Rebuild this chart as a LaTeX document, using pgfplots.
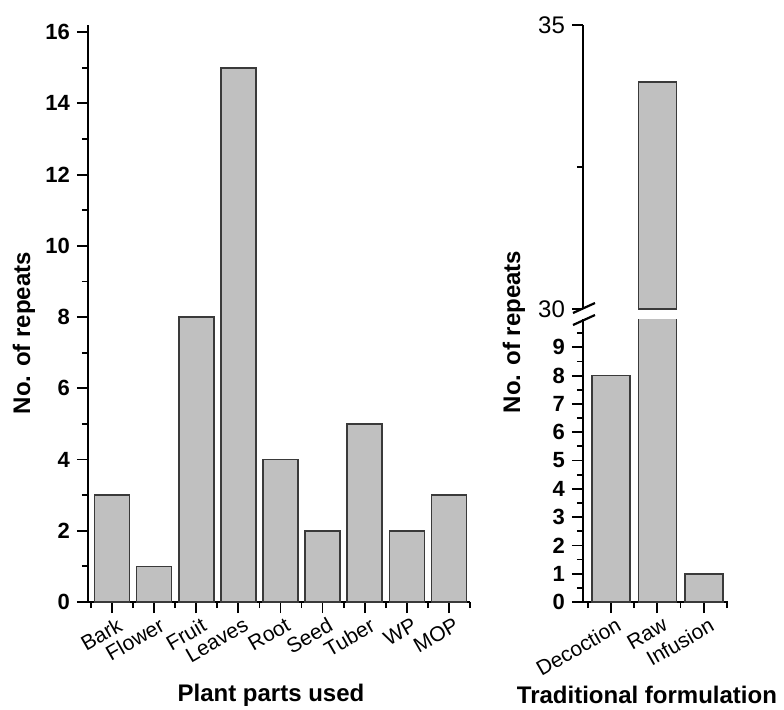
\documentclass[border=0pt]{standalone}
\usepackage{fontspec}
\setmainfont{Liberation Sans}
\usepackage{pgfplots}
\pgfplotsset{compat=1.18}
\definecolor{barfill}{HTML}{C0C0C0}
\definecolor{baredge}{HTML}{3A3A3A}
\pgfplotsset{
  base/.style={
    scale only axis,
    axis x line*=bottom, axis y line*=left,
    axis line style={line width=1pt,-},
    tick align=outside,
    major tick length=5.5pt, minor tick length=3pt,
    tick style={black, line width=0.9pt},
    /pgf/number format/assume math mode=true,
    ybar,
    label style={font=\bfseries\fontsize{12}{14}\selectfont},
    yticklabel style={font=\bfseries\fontsize{11}{13}\selectfont},
    xticklabel style={font=\fontsize{10.5}{12}\selectfont, rotate=30, anchor=north east, inner sep=1pt, yshift=-1.5pt, xshift=2pt},
  },
  bars/.style={fill=barfill, draw=baredge, line width=0.8pt},
}
\begin{document}
\begin{tikzpicture}
\useasboundingbox (0,0) rectangle (392pt,-354.5pt);
% Left panel: plant parts used
\begin{axis}[base,
  at={(44pt,-301pt)}, anchor=south west,
  width=191pt, height=288.5pt,
  xmin=-0.57, xmax=8.5, ymin=0, ymax=16.2,
  ytick={0,2,...,16}, minor ytick={1,3,...,15},
  xtick={0,1,2,3,4,5,6,7,8},
  minor xtick={-0.5,0.5,1.5,2.5,3.5,4.5,5.5,6.5,7.5,8.5},
  xticklabels={Bark,Flower,Fruit,Leaves,Root,Seed,Tuber,WP,MOP},
  bar width=17.5pt,
  xlabel={Plant parts used},
  xlabel style={at={(axis description cs:0.479,-0.173)}, anchor=base},
  ylabel={No. of repeats},
  ylabel style={at={(axis description cs:-0.1675,0.466)}, anchor=center, rotate=0},
]
\addplot[bars] coordinates {(0,3) (1,1) (2,8) (3,15) (4,4) (5,2) (6,5) (7,2) (8,3)};
\end{axis}
% Right panel, lower part
\begin{axis}[base,
  at={(291.5pt,-301pt)}, anchor=south west,
  width=72.5pt, height=141.5pt,
  xmin=-0.6, xmax=2.52, ymin=0, ymax=10,
  ytick={0,1,...,9}, minor ytick={0.5,1.5,...,9.5},
  xtick={0,1,2}, minor xtick={-0.5,0.5,1.5,2.5},
  xticklabels={Decoction,Raw,Infusion},
  bar width=19pt,
  xlabel={Traditional formulation},
  xlabel style={at={(axis description cs:0.441,-0.357)}, anchor=base},
  ylabel={No. of repeats},
  ylabel style={at={(axis description cs:-0.476,0.954)}, anchor=center, rotate=0},
]
\addplot[bars] coordinates {(0,8) (1,34) (2,1)};
\end{axis}
% Right panel, upper part (only the Raw bar reaches it)
\begin{axis}[base,
  at={(291.5pt,-154.5pt)}, anchor=south west,
  width=72.5pt, height=142pt,
  axis x line=none,
  xmin=-0.6, xmax=2.52, ymin=30, ymax=35,
  ytick={30,35}, minor ytick={32.5},
  yticklabel style={font=\mdseries\fontsize{12}{14}\selectfont},
  bar width=19pt,
]
\addplot[bars] coordinates {(1,34)};
\end{axis}
% axis break marks
\draw[line width=1.1pt] (286.5pt,-156.5pt) -- (297.5pt,-151.5pt);
\draw[line width=1.1pt] (286.5pt,-162.5pt) -- (297.5pt,-157.5pt);
\end{tikzpicture}
\end{document}
